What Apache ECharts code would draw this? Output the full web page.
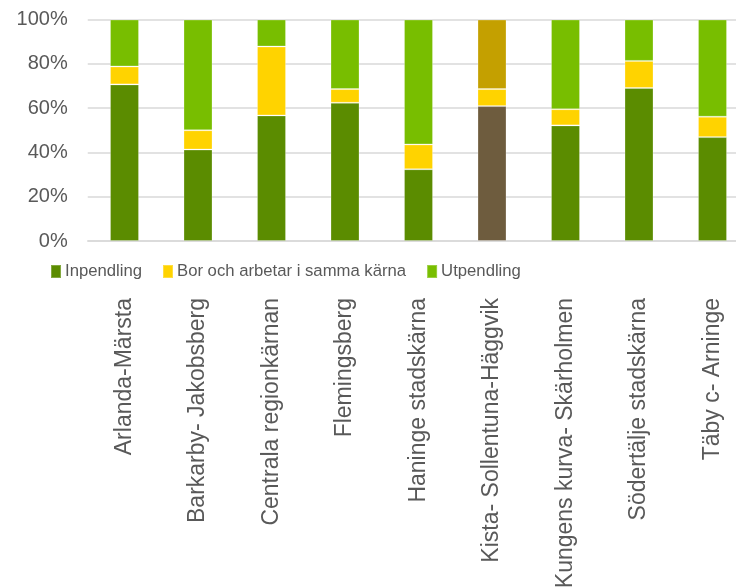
<!DOCTYPE html>
<html>
<head>
<meta charset="utf-8">
<script src="https://cdn.jsdelivr.net/npm/echarts@6/dist/echarts.min.js"></script>
<style>
  html, body { margin: 0; padding: 0; background: #fff; overflow: hidden; }
  #chart { width: 736px; height: 587px; }
</style>
</head>
<body>
<div id="chart"></div>
<script>
// Pendling per regional kärna, andel (%)
const categories = [
  'Arlanda-Märsta',
  'Barkarby- Jakobsberg',
  'Centrala regionkärnan',
  'Flemingsberg',
  'Haninge stadskärna',
  'Kista- Sollentuna-Häggvik',
  'Kungens kurva- Skärholmen',
  'Södertälje stadskärna',
  'Täby c- Arninge'
];
const inpendling = [70.7, 41.3, 56.7, 62.4, 32.4, 60.9, 52.2, 69.1, 46.9];
const borOchArbetar = [8.1, 8.7, 31.1, 6.2, 11.2, 7.7, 7.3, 12.2, 9.2];
const utpendling = [21.2, 50.0, 12.2, 31.4, 56.4, 31.4, 40.5, 18.7, 43.9];
const yTicks = [0, 20, 40, 60, 80, 100];

// Kista-staplen är markerad med egna färger
const highlightIndex = 5;
const colors = {
  inpendling: '#5B8C00',
  bor: '#FFD300',
  utpendling: '#78BE00',
  hlIn: '#6E5C3E',
  hlUt: '#C4A000'
};

function withHighlight(values, hlColor) {
  return values.map((v, i) => (i === highlightIndex && hlColor)
    ? { value: v, itemStyle: { color: hlColor } }
    : v);
}

const textColor = '#595959';
const font = 'Liberation Sans, Arial, sans-serif';

const chart = echarts.init(document.getElementById('chart'), null, { renderer: 'canvas' });

const barCommon = {
  type: 'bar',
  stack: 'total',
  barWidth: 29,
  itemStyle: { borderColor: 'rgba(255,255,255,0.25)', borderWidth: 1 }
};

chart.setOption({
  animation: false,
  backgroundColor: '#ffffff',
  // the plot area continues a little past the right edge of the view,
  // and the long rotated labels may run off the bottom
  grid: {
    left: 87.75, width: 661.5, top: 19.5, height: 221.5,
    containLabel: false,
    outerBoundsMode: 'none'
  },
  legend: {
    left: 45,
    top: 258,
    itemWidth: 10,
    itemHeight: 13,
    itemGap: 20,
    icon: 'rect',
    textStyle: { color: textColor, fontSize: 16.7, fontFamily: font, padding: [0, 0, 0, -1] },
    data: ['Inpendling', 'Bor och arbetar i samma kärna', 'Utpendling']
  },
  xAxis: {
    type: 'category',
    data: categories,
    axisLine: { show: true, lineStyle: { color: '#d9d9d9', width: 1.5 } },
    axisTick: { show: false },
    axisLabel: {
      rotate: 90,
      interval: 0,
      margin: 57,
      color: textColor,
      fontSize: 23,
      fontFamily: font
    }
  },
  yAxis: {
    type: 'value',
    min: yTicks[0],
    max: yTicks[yTicks.length - 1],
    interval: yTicks[1] - yTicks[0],
    axisLine: { show: false },
    axisTick: { show: false },
    splitLine: { lineStyle: { color: '#d9d9d9', width: 1.5 } },
    axisLabel: {
      margin: 20,
      color: textColor,
      fontSize: 20,
      fontFamily: font,
      formatter: v => v + '%'
    }
  },
  series: [
    Object.assign({}, barCommon, {
      name: 'Inpendling',
      color: colors.inpendling,
      data: withHighlight(inpendling, colors.hlIn)
    }),
    Object.assign({}, barCommon, {
      name: 'Bor och arbetar i samma kärna',
      color: colors.bor,
      data: withHighlight(borOchArbetar, null)
    }),
    Object.assign({}, barCommon, {
      name: 'Utpendling',
      color: colors.utpendling,
      data: withHighlight(utpendling, colors.hlUt)
    })
  ]
});
</script>
</body>
</html>
